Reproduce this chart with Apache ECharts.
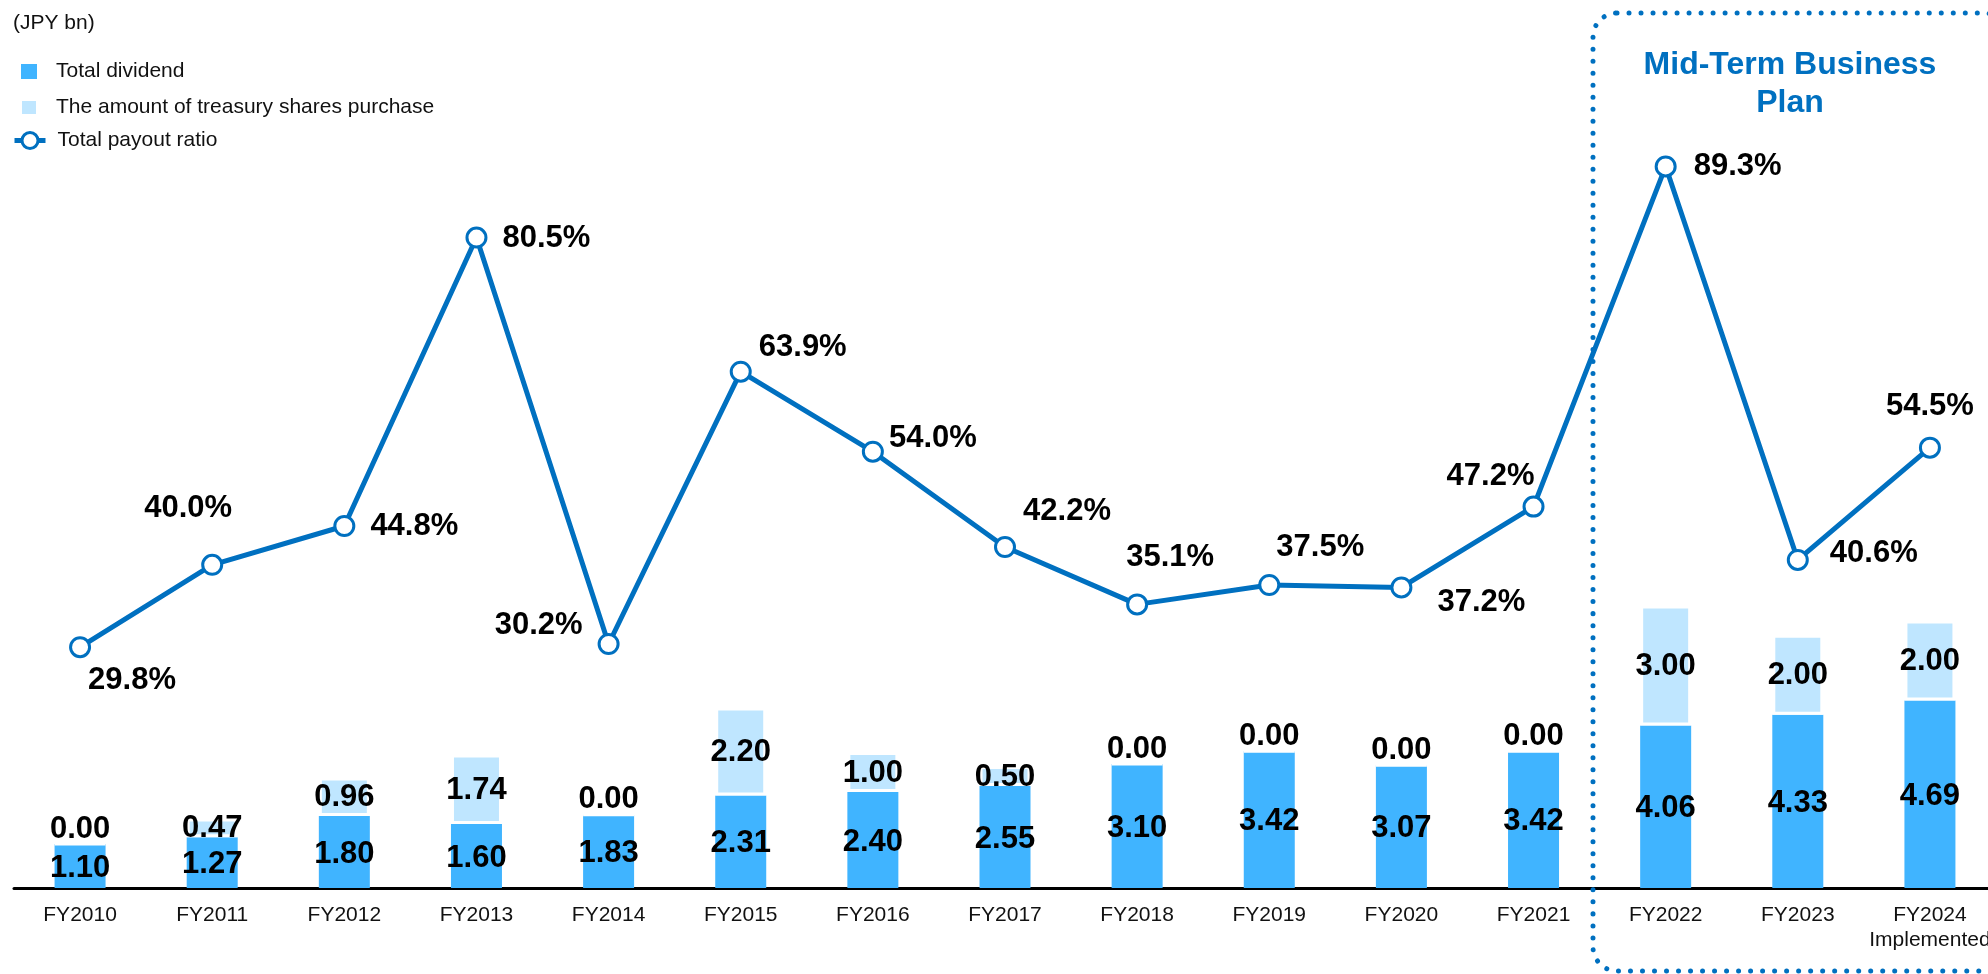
<!DOCTYPE html>
<html>
<head>
<meta charset="utf-8">
<script src="https://cdn.jsdelivr.net/npm/echarts@6/dist/echarts.min.js"></script>
<style>
  html, body { margin: 0; padding: 0; background: #fff; }
  #chart { width: 1988px; height: 974px; }
</style>
</head>
<body>
<div id="chart"></div>
<script>
// ---- Data ----
const categories = ['FY2010', 'FY2011', 'FY2012', 'FY2013', 'FY2014', 'FY2015', 'FY2016', 'FY2017',
  'FY2018', 'FY2019', 'FY2020', 'FY2021', 'FY2022', 'FY2023', 'FY2024\nImplemented'];
const totalDividend = [1.10, 1.27, 1.80, 1.60, 1.83, 2.31, 2.40, 2.55, 3.10, 3.42, 3.07, 3.42, 4.06, 4.33, 4.69];
const treasuryPurchase = [0.00, 0.47, 0.96, 1.74, 0.00, 2.20, 1.00, 0.50, 0.00, 0.00, 0.00, 0.00, 3.00, 2.00, 2.00];
const payoutRatio = [29.8, 40.0, 44.8, 80.5, 30.2, 63.9, 54.0, 42.2, 35.1, 37.5, 37.2, 47.2, 89.3, 40.6, 54.5];
const seriesNames = ['Total dividend', 'The amount of treasury shares purchase', 'Total payout ratio'];
const unitLabel = '(JPY bn)';
const planTitle = 'Mid-Term Business\nPlan';

// ---- Label placement (style only) ----
const ratioLabelOffsets = [[52, 33], [-24, -56], [70, 0], [70, 1], [-70, -19], [62, -24], [60, -13],
  [62, -36], [33, -47], [51, -38], [80, 15], [-43, -30], [72, 0], [76, -6], [0, -41]];

const BLUE = '#0070C0';
const FONT = '"Liberation Sans", Arial, sans-serif';

const chart = echarts.init(document.getElementById('chart'), null, { renderer: 'canvas' });

const fmt2 = p => Number(p.value).toFixed(2);

const treasuryData = treasuryPurchase.map(v => v === 0
  ? { value: v, label: { position: 'top', distance: 0, offset: [0, 2] } }
  : { value: v });

const ratioData = payoutRatio.map((v, i) => ({
  value: v,
  label: { offset: ratioLabelOffsets[i] }
}));

const option = {
  animation: false,
  textStyle: { fontFamily: FONT },
  grid: { left: 14, top: 80, width: 1982, height: 808, containLabel: false, outerBoundsMode: 'none' },
  legend: [
    {
      data: [seriesNames[0], seriesNames[1]],
      orient: 'vertical', left: 20, top: 61, padding: 0,
      icon: 'rect',
      itemWidth: 16, itemHeight: 15, itemGap: 15,
      textStyle: { fontSize: 21, color: '#111', lineHeight: 20, padding: [0, 0, 0, 14], fontFamily: FONT },
      selectedMode: false
    },
    {
      data: [seriesNames[2]],
      orient: 'vertical', left: 12, top: 130, padding: 0,
      itemWidth: 31, itemHeight: 20,
      lineStyle: { width: 5 },
      itemStyle: { borderWidth: 3 },
      textStyle: { fontSize: 21, color: '#111', lineHeight: 20, padding: [0, 0, 0, 7], fontFamily: FONT },
      selectedMode: false
    }
  ],
  xAxis: {
    type: 'category',
    data: categories,
    boundaryGap: true,
    axisLine: { lineStyle: { color: '#000', width: 3 } },
    axisTick: { show: false },
    axisLabel: { color: '#111', fontSize: 21, margin: 15, lineHeight: 25, fontFamily: FONT, interval: 0 },
    splitLine: { show: false }
  },
  yAxis: [
    { type: 'value', min: 0, max: 20.2, show: false, splitLine: { show: false } },
    { type: 'value', min: 0, max: 100, show: false, splitLine: { show: false } }
  ],
  series: [
    {
      name: seriesNames[0],
      type: 'bar',
      stack: 'payout',
      data: totalDividend,
      barWidth: 51,
      itemStyle: { color: '#40B4FF' },
      label: {
        show: true, position: 'inside', formatter: fmt2, offset: [0, 2],
        color: '#000', fontSize: 31, fontWeight: 'bold', fontFamily: FONT
      },
      z: 2
    },
    {
      name: seriesNames[1],
      type: 'bar',
      stack: 'payout',
      data: treasuryData,
      barWidth: 51,
      itemStyle: { color: '#BFE6FF', borderColor: '#fff', borderWidth: 3 },
      label: {
        show: true, position: 'inside', formatter: fmt2, offset: [0, 1],
        color: '#000', fontSize: 31, fontWeight: 'bold', fontFamily: FONT
      },
      z: 2
    },
    {
      name: seriesNames[2],
      type: 'line',
      yAxisIndex: 1,
      data: ratioData,
      symbol: 'circle',
      symbolSize: 19,
      showAllSymbol: true,
      lineStyle: { color: BLUE, width: 5 },
      itemStyle: { color: '#fff', borderColor: BLUE, borderWidth: 3 },
      label: {
        show: true, position: 'inside',
        formatter: p => Number(p.value).toFixed(1) + '%',
        color: '#000', fontSize: 31, fontWeight: 'bold', fontFamily: FONT
      },
      z: 5
    }
  ],
  graphic: [
    {
      type: 'text', left: 13, top: 13,
      style: { text: unitLabel, fontSize: 21, fill: '#111', fontFamily: FONT }
    },
    {
      type: 'rect',
      shape: { x: 1593, y: 13, width: 415, height: 958, r: 24 },
      style: { fill: null, stroke: BLUE, lineWidth: 5, lineDash: [0.01, 12], lineCap: 'round' },
      z: 10
    },
    {
      type: 'text', x: 1790, y: 46,
      style: {
        text: planTitle, fontSize: 32, fontWeight: 'bold', fill: BLUE,
        align: 'center', lineHeight: 38, fontFamily: FONT
      },
      z: 10
    }
  ]
};

chart.setOption(option);
</script>
</body>
</html>
